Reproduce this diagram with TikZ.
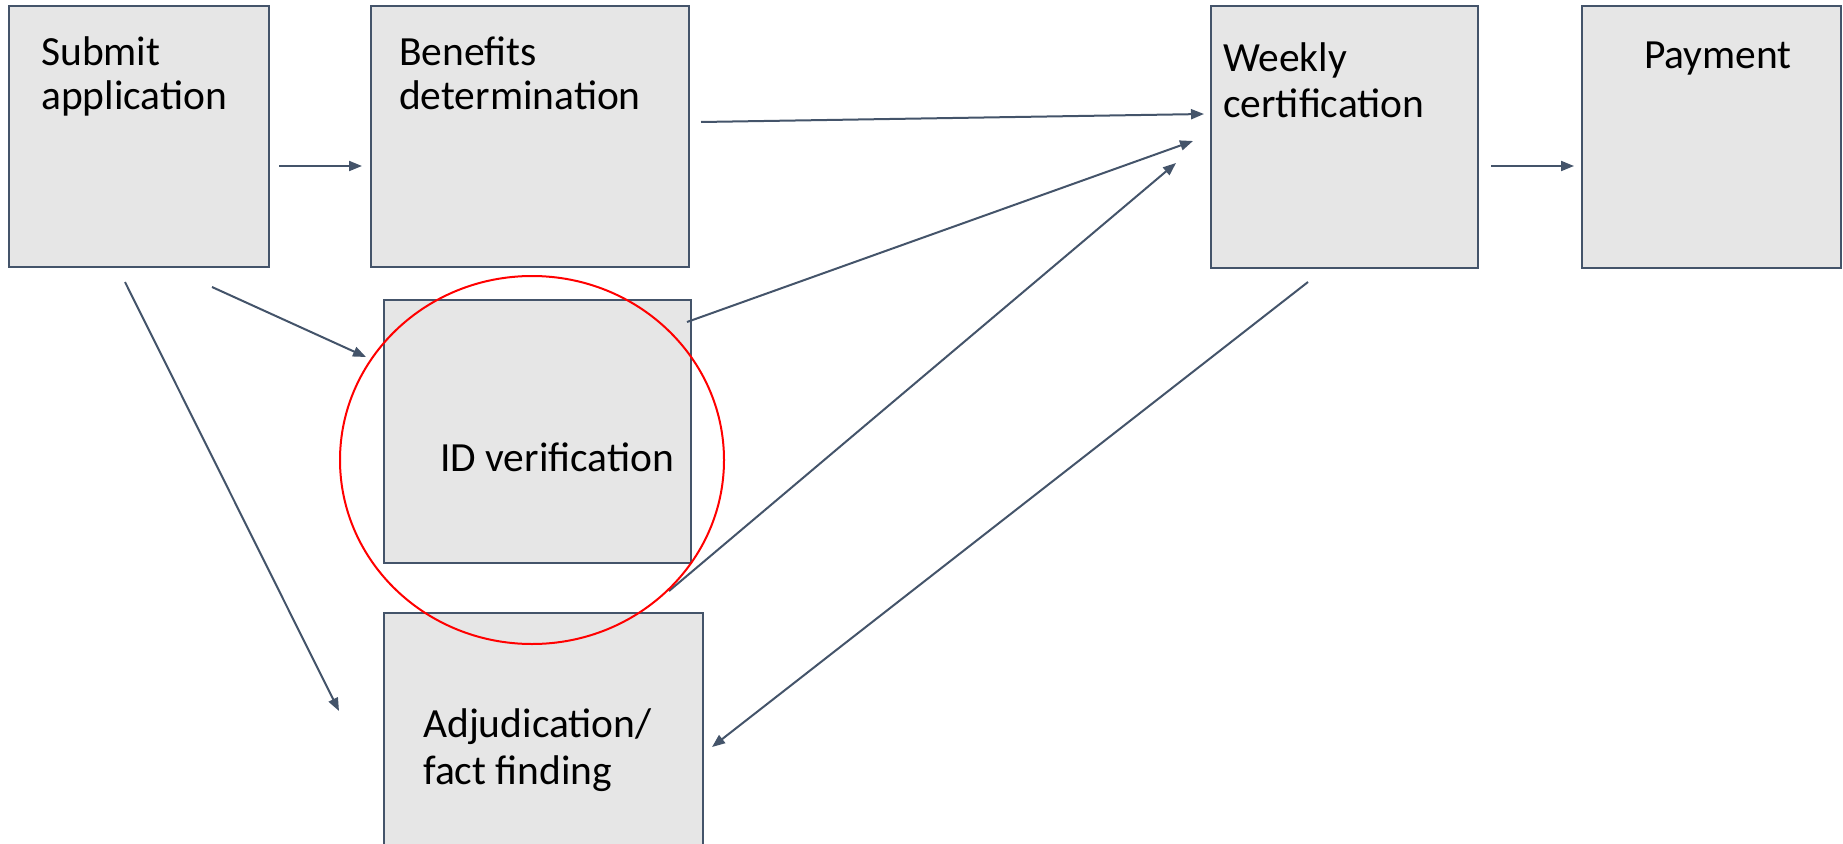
\documentclass[tikz,border=0pt]{standalone}
\usepackage{fontspec}
\setmainfont{Carlito}
\usetikzlibrary{arrows.meta}
\definecolor{edge}{HTML}{44546A}
\definecolor{boxfill}{HTML}{E6E6E6}
\tikzset{
  stagebox/.style={draw=edge, fill=boxfill, line width=2pt},
  textline/.style={anchor=base west, inner sep=0pt, font=\fontsize{41.5}{45}\selectfont},
  flow/.style={draw=edge, line width=2pt, -{Triangle[length=13pt,width=10pt]}},
  redring/.style={draw=red, line width=2pt}
}
\begin{document}
\begin{tikzpicture}[x=1pt,y=-1pt]
\useasboundingbox (0,0) rectangle (1843,843);
% boxes
\draw[stagebox] (9,6) rectangle (269,267);
\draw[stagebox] (371,6) rectangle (689,267);
\draw[stagebox] (384,300) rectangle (691,563);
\draw[stagebox] (384,613) rectangle (703,850);
\draw[stagebox] (1211,6) rectangle (1478,268);
\draw[stagebox] (1582,6) rectangle (1841,268);
% labels
\node[textline] (t1) at (41,65) {Submit};
\node[textline] (t2) at (41,109) {application};
\node[textline] (t3) at (399,65) {Benefits};
\node[textline] (t4) at (399,109) {determination};
\node[textline] (t5) at (1223,71) {Weekly};
\node[textline] (t6) at (1223,117) {certification};
\node[textline] (t7) at (1644,69) {Payment};
\node[textline] (t8) at (440,471) {ID verification};
\node[textline] (t9) at (423,737) {Adjudication/};
\node[textline] (t10) at (423,784) {fact finding};
% connector endpoints
\coordinate (a1s) at (279,166); \coordinate (a1e) at (362,166);
\coordinate (a2s) at (701,122); \coordinate (a2e) at (1204,114);
\coordinate (a3s) at (687,322); \coordinate (a3e) at (1193,141);
\coordinate (a4s) at (669,591); \coordinate (a4e) at (1176,163);
\coordinate (a5s) at (1308,282); \coordinate (a5e) at (712,747);
\coordinate (a6s) at (212,287); \coordinate (a6e) at (366,357);
\coordinate (a7s) at (125,282); \coordinate (a7e) at (339,711);
\coordinate (a8s) at (1491,166); \coordinate (a8e) at (1574,166);
\draw[flow] (a1s) -- (a1e);
\draw[flow] (a2s) -- (a2e);
\draw[flow] (a3s) -- (a3e);
\draw[flow] (a4s) -- (a4e);
\draw[flow] (a5s) -- (a5e);
\draw[flow] (a6s) -- (a6e);
\draw[flow] (a7s) -- (a7e);
\draw[flow] (a8s) -- (a8e);
% red highlight
\draw[redring] (532,460) ellipse [x radius=192, y radius=184];
\end{tikzpicture}
\end{document}
